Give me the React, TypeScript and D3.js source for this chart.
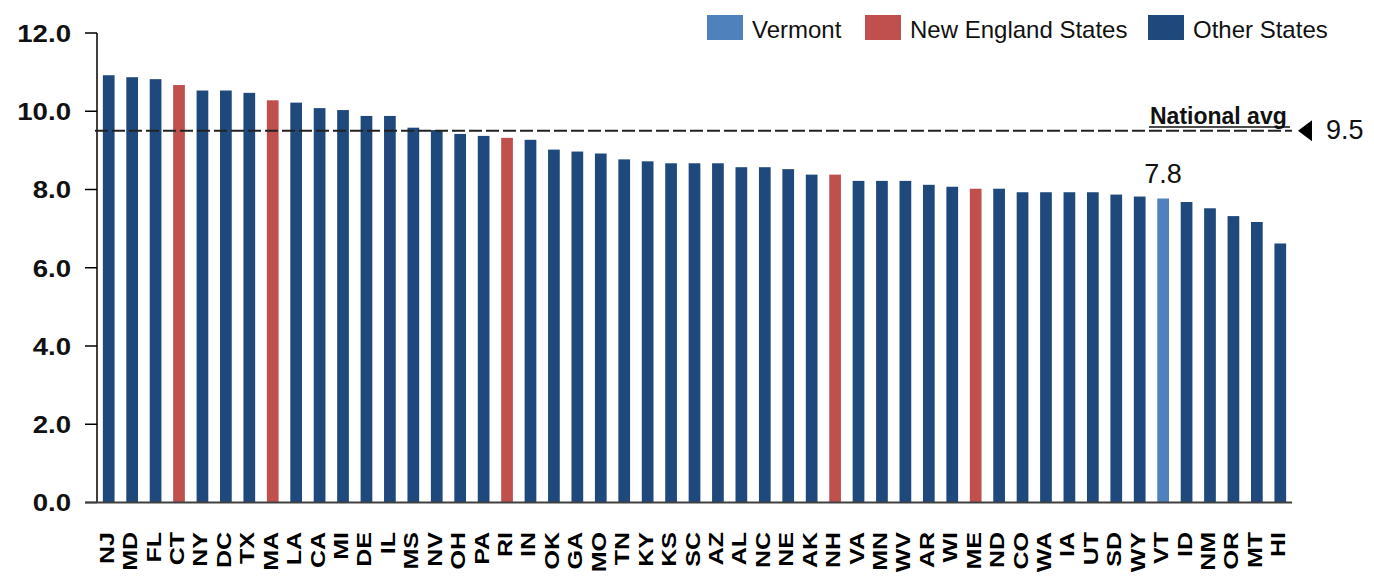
import React from "react";
import * as d3 from "d3";

const states = ["NJ","MD","FL","CT","NY","DC","TX","MA","LA","CA","MI","DE","IL","MS","NV","OH","PA","RI","IN","OK","GA","MO","TN","KY","KS","SC","AZ","AL","NC","NE","AK","NH","VA","MN","WV","AR","WI","ME","ND","CO","WA","IA","UT","SD","WY","VT","ID","NM","OR","MT","HI"];
const values = [10.92,10.87,10.82,10.67,10.53,10.53,10.47,10.28,10.22,10.08,10.03,9.88,9.88,9.58,9.52,9.42,9.37,9.32,9.27,9.02,8.97,8.92,8.77,8.72,8.67,8.67,8.67,8.57,8.57,8.52,8.38,8.38,8.22,8.22,8.22,8.12,8.07,8.02,8.02,7.93,7.93,7.93,7.93,7.87,7.82,7.77,7.68,7.52,7.32,7.17,6.62];
const newEngland = ["CT","MA","RI","NH","ME"];
const vermont = "VT";
const yTicks = [0, 2, 4, 6, 8, 10, 12];
const nationalAvg = 9.5;
const vermontLabel = "7.8";
const legendItems = ["Vermont", "New England States", "Other States"];

const COLORS: Record<string, string> = {
  "Vermont": "#4F81BD",
  "New England States": "#C0504D",
  "Other States": "#1F497D",
};

const W = 1374, H = 584;
const left = 97, right = 1292, top = 33, bottom = 502.5;

export default function App() {
  const x = d3.scaleBand<string>().domain(states).range([left, right]).paddingInner(0.5).paddingOuter(0.25);
  const y = d3.scaleLinear().domain([0, 12]).range([bottom, top]);
  const group = (s: string) => s === vermont ? "Vermont" : newEngland.includes(s) ? "New England States" : "Other States";
  const avgY = y(nationalAvg);
  const vtX = (x(vermont) as number) + x.bandwidth() / 2;
  const vtVal = values[states.indexOf(vermont)];
  const legendX = [707, 865, 1148];
  const font = "'Liberation Sans', Arial, sans-serif";

  return (
    <svg width={W} height={H} style={{ position: "absolute", left: 0, top: 0, background: "#fff" }} fontFamily={font}>
      {/* bars */}
      {states.map((s, i) => (
        <rect key={s} x={x(s)} y={y(values[i])} width={x.bandwidth()} height={bottom - y(values[i])} fill={COLORS[group(s)]} />
      ))}
      {/* y axis */}
      <line x1={left} x2={left} y1={top} y2={bottom} stroke="#000" strokeWidth={1.5} />
      {yTicks.map(t => (
        <g key={t}>
          <line x1={85} x2={left} y1={y(t)} y2={y(t)} stroke="#000" strokeWidth={1.5} />
          <text transform={`translate(71,${y(t) + 0.5}) scale(1.15,1)`} textAnchor="end" dominantBaseline="central" fontSize={24} fontWeight="bold" fill="#111">{t.toFixed(1)}</text>
        </g>
      ))}
      {/* x axis */}
      <line x1={85} x2={right} y1={bottom} y2={bottom} stroke="#404040" strokeWidth={2} />
      {states.map(s => (
        <text key={s} transform={`translate(${(x(s) as number) + x.bandwidth() / 2 + 5},532) rotate(-90) scale(1.25,1)`} textAnchor="end" fontSize={20} fontWeight="bold" fill="#000">{s}</text>
      ))}
      {/* national average */}
      <line x1={95} x2={right} y1={avgY} y2={avgY} stroke="#222" strokeWidth={2} strokeDasharray="13 4" />
      <text x={1150} y={124} fontSize={23} fontWeight="bold" fill="#111">National avg</text>
      <line x1={1149} x2={1290} y1={127} y2={127} stroke="#111" strokeWidth={1.5} />
      <path d={`M1298,${avgY} L1312,${avgY - 10.5} L1312,${avgY + 10.5} Z`} fill="#000" />
      <text x={1326} y={avgY + 8.5} fontSize={27} fill="#111">{nationalAvg.toFixed(1)}</text>
      {/* VT label */}
      <text x={vtX} y={y(vtVal) - 15.5} textAnchor="middle" fontSize={27} fill="#111">{vermontLabel}</text>
      {/* legend */}
      {legendItems.map((l, i) => (
        <g key={l}>
          <rect x={legendX[i]} y={15} width={36} height={25} fill={COLORS[l]} />
          <text x={legendX[i] + 45} y={38} fontSize={24} fill="#111">{l}</text>
        </g>
      ))}
    </svg>
  );
}
